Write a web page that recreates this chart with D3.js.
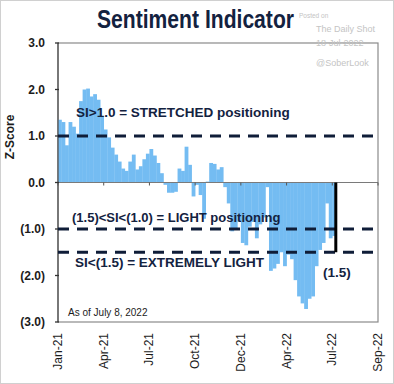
<meta charset="utf-8">
<style>
body { margin: 0; background: #fff; }
text { font-family: "Liberation Sans", Arial, sans-serif; }
.note { font-weight: bold; fill: #13223f; font-size: 13.5px; }
.wm { fill: #c4c4c4; }
</style>
<body>
<script src="https://d3js.org/d3.v7.min.js"></script>
<script>
// weekly sentiment indicator z-scores, week ending Fridays (Jan 8, 2021 .. Jul 8, 2022)
var values = [1.35, 1.3, 0.8, 1.3, 1.2, 1.05, 1.75, 2.0, 2.02, 1.85,
  1.9, 1.78, 1.42, 1.14, 0.97, 0.75, 0.6, 0.45, 0.3, 0.25,
  0.45, 0.6, 0.28, 0.35, 0.5, 0.62, 0.72, 0.58, 0.42, 0.2,
  -0.05, -0.22, -0.22, -0.2, 0.3, 0.25, 0.77, 0.38, -0.3, -0.05,
  -0.27, -0.78, 0.02, 0.42, 0.4, 0.28, 0.33, -0.1, -0.45, -1.05,
  -1.0, -0.85, -1.3, -1.35, -0.95, -0.85, -1.2, -0.9, -0.75, -0.1,
  -1.9, -1.85, -1.75, -1.5, -1.8, -1.55, -1.65, -2.1, -2.45, -2.6,
  -2.72, -2.5, -2.45, -1.8, -1.45, -1.3, -0.45, -1.2, -1.15];
var firstWeek = new Date(2021, 0, 8);
var weeks = values.map(function(v, i) { return d3.timeDay.offset(firstWeek, 7 * i); });

var yTicks = [3, 2, 1, 0, -1, -2, -3];
var yLabels = ["3.0", "2.0", "1.0", "0.0", "(1.0)", "(2.0)", "(3.0)"];
var xTicks = [new Date(2021, 0, 1), new Date(2021, 3, 2), new Date(2021, 6, 2), new Date(2021, 9, 1),
  new Date(2021, 11, 31), new Date(2022, 3, 1), new Date(2022, 6, 1), new Date(2022, 8, 30)];
var xLabels = ["Jan-21", "Apr-21", "Jul-21", "Oct-21", "Dec-21", "Apr-22", "Jul-22", "Sep-22"];
var levels = [1.0, -1.0, -1.5];
var asOf = new Date(2022, 6, 8);
var lastValue = -1.5;

var W = 394, H = 384;
var plotL = 58, plotR = 378, plotT = 43, plotB = 322;

var svg = d3.select("body").append("svg")
    .attr("width", W)
    .attr("height", H);

svg.append("rect")
    .attr("x", 0.5).attr("y", 0.5)
    .attr("width", W - 1).attr("height", H - 1)
    .attr("fill", "#fff").attr("stroke", "#d0d0d0");

var x = d3.scaleTime().domain([xTicks[0], xTicks[xTicks.length - 1]]).range([plotL, plotR]);
var y = d3.scaleLinear().domain([-3, 3]).range([plotB, plotT]);

// plot frame
svg.append("rect")
    .attr("x", plotL).attr("y", plotT)
    .attr("width", plotR - plotL).attr("height", plotB - plotT)
    .attr("fill", "none").attr("stroke", "#8a8a8a").attr("stroke-width", 1.2);

// bars
svg.append("g").selectAll("rect")
  .data(values)
  .enter().append("rect")
    .attr("x", function(d, i) { return x(d3.timeDay.offset(weeks[i], -7)); })
    .attr("width", function(d, i) { return x(weeks[i]) - x(d3.timeDay.offset(weeks[i], -7)) + 0.3; })
    .attr("y", function(d) { return y(Math.max(0, d)); })
    .attr("height", function(d) { return Math.abs(y(d) - y(0)); })
    .attr("fill", "#74bcf2");

// zero line with the date ticks on it
svg.append("line")
    .attr("x1", plotL).attr("x2", plotR)
    .attr("y1", y(0)).attr("y2", y(0))
    .attr("stroke", "#7a7a7a").attr("stroke-width", 1.2);
svg.append("g").selectAll("line")
  .data(xTicks)
  .enter().append("line")
    .attr("x1", function(d) { return x(d); }).attr("x2", function(d) { return x(d); })
    .attr("y1", y(0)).attr("y2", y(0) + 3)
    .attr("stroke", "#555");

// y axis
svg.append("line")
    .attr("x1", plotL).attr("x2", plotL)
    .attr("y1", plotT).attr("y2", plotB)
    .attr("stroke", "#555").attr("stroke-width", 1.3);
var yg = svg.append("g").selectAll("g")
  .data(yTicks)
  .enter().append("g")
    .attr("transform", function(d) { return "translate(0," + y(d) + ")"; });
yg.append("line")
    .attr("x1", plotL - 3).attr("x2", plotL + 1)
    .attr("stroke", "#333").attr("stroke-width", 1.3);
yg.append("text")
    .attr("x", 45).attr("dy", "0.36em")
    .attr("text-anchor", "end")
    .style("font-size", "12px").style("font-weight", "bold").style("fill", "#1c1c1c")
    .text(function(d, i) { return yLabels[i]; });

svg.append("text")
    .attr("transform", "translate(14,137) rotate(-90)")
    .attr("text-anchor", "middle")
    .style("font-size", "12px").style("font-weight", "bold").style("fill", "#1c1c1c")
    .text("Z-Score");

// x labels
svg.append("g").selectAll("text")
  .data(xTicks)
  .enter().append("text")
    .attr("transform", function(d) { return "translate(" + (x(d) + 4) + ",333) rotate(-90)"; })
    .attr("text-anchor", "end")
    .style("font-size", "12px").style("fill", "#1c1c1c")
    .text(function(d, i) { return xLabels[i]; });

// threshold lines
svg.append("g").selectAll("line")
  .data(levels)
  .enter().append("line")
    .attr("x1", plotL).attr("x2", plotR)
    .attr("y1", function(d) { return y(d); }).attr("y2", function(d) { return y(d); })
    .attr("stroke", "#0f1d38").attr("stroke-width", 3)
    .attr("stroke-dasharray", "11,8");

// latest reading marker
svg.append("line")
    .attr("x1", x(asOf)).attr("x2", x(asOf))
    .attr("y1", y(0)).attr("y2", y(lastValue))
    .attr("stroke", "#000").attr("stroke-width", 3);

svg.append("text").attr("class", "note").attr("x", 76).attr("y", 117).text("SI>1.0 = STRETCHED positioning");
svg.append("text").attr("class", "note").attr("x", 72).attr("y", 222).style("font-size", "13px").text("(1.5)<SI<(1.0) = LIGHT positioning");
svg.append("text").attr("class", "note").attr("x", 75).attr("y", 267).text("SI<(1.5) = EXTREMELY LIGHT");
svg.append("text").attr("class", "note").attr("x", 337).attr("y", 277).attr("text-anchor", "middle").text("(1.5)");
svg.append("text").attr("x", 68).attr("y", 316)
    .style("font-size", "10px").style("fill", "#1c1c1c").text("As of July 8, 2022");

// title
svg.append("text")
    .attr("x", 97).attr("y", 28)
    .attr("textLength", 197).attr("lengthAdjust", "spacingAndGlyphs")
    .style("font-size", "25px").style("font-weight", "bold").style("fill", "#13223f")
    .text("Sentiment Indicator");

// watermark
svg.append("text").attr("class", "wm").attr("x", 299).attr("y", 18).style("font-size", "6.5px").text("Posted on");
svg.append("text").attr("class", "wm").attr("x", 316).attr("y", 32).style("font-size", "9px").text("The Daily Shot");
svg.append("text").attr("class", "wm").attr("x", 316).attr("y", 46).style("font-size", "9px").text("18-Jul-2022");
svg.append("text").attr("class", "wm").attr("x", 316).attr("y", 66).style("font-size", "9px").text("@SoberLook");
</script>
</body>
